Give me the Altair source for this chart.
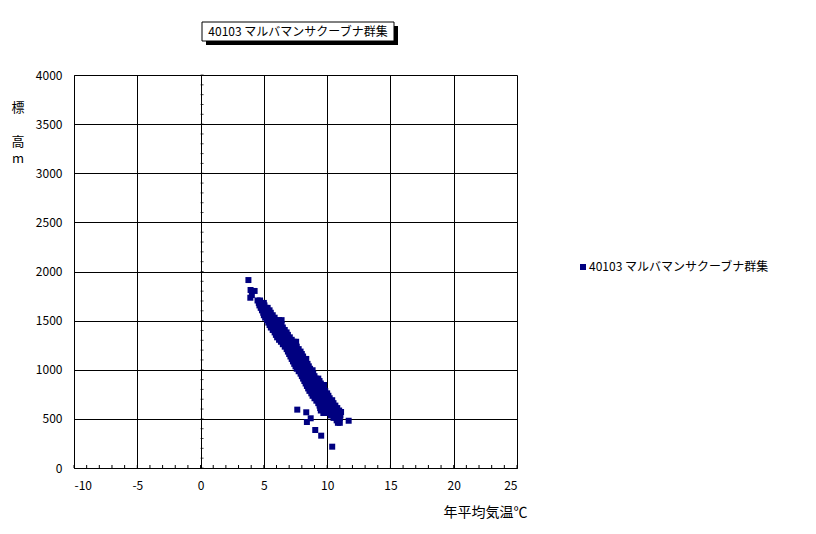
import altair as alt
import pandas as pd

series_name = "40103 マルバマンサクーブナ群集"
x_title = "年平均気温℃"
y_title_chars = ["標", "高", "m"]

# (elevation m, [annual mean temperatures °C])
rows = [
    (1913, [3.78]),
    (1812, [3.95]),
    (1802, [4.27]),
    (1760, [4.05]),
    (1733, [3.93]),
    (1705, [4.5, 4.7]),
    (1680, [4.6, 4.8, 5.0]),
    (1655, [4.65, 4.85, 5.05]),
    (1630, [4.75, 4.95, 5.15, 5.3]),
    (1605, [4.85, 5.05, 5.25, 5.45]),
    (1580, [4.95, 5.15, 5.35, 5.55]),
    (1555, [5.0, 5.25, 5.45, 5.7]),
    (1530, [5.1, 5.35, 5.6, 5.85]),
    (1505, [5.25, 5.45, 5.7, 5.95, 6.2, 6.4]),
    (1480, [5.35, 5.6, 5.85, 6.1]),
    (1455, [5.45, 5.7, 5.95, 6.2, 6.4]),
    (1430, [5.55, 5.8, 6.05, 6.3, 6.5]),
    (1405, [5.7, 5.95, 6.2, 6.45, 6.65]),
    (1380, [5.85, 6.1, 6.35, 6.6, 6.8]),
    (1355, [5.95, 6.2, 6.45, 6.7, 6.9]),
    (1330, [6.05, 6.3, 6.55, 6.8, 7.05]),
    (1305, [6.2, 6.45, 6.7, 6.95, 7.2]),
    (1285, [6.35, 6.6, 6.85, 7.1, 7.35, 7.55]),
    (1260, [6.5, 6.75, 7.0, 7.25, 7.45]),
    (1235, [6.65, 6.9, 7.15, 7.4, 7.6]),
    (1210, [6.8, 7.05, 7.3, 7.55, 7.75]),
    (1185, [6.9, 7.15, 7.4, 7.65, 7.9]),
    (1160, [7.0, 7.25, 7.5, 7.75, 8.0]),
    (1135, [7.1, 7.35, 7.6, 7.85, 8.1]),
    (1110, [7.2, 7.45, 7.7, 7.95, 8.2, 8.35]),
    (1085, [7.3, 7.55, 7.8, 8.05, 8.3]),
    (1060, [7.4, 7.65, 7.9, 8.15, 8.45]),
    (1035, [7.5, 7.75, 8.0, 8.25, 8.55]),
    (1010, [7.6, 7.85, 8.1, 8.35, 8.65]),
    (995, [8.85]),
    (985, [7.75, 8.0, 8.25, 8.5, 8.75]),
    (960, [7.9, 8.15, 8.4, 8.65, 8.9]),
    (935, [8.0, 8.25, 8.5, 8.75, 9.0]),
    (910, [8.1, 8.35, 8.6, 8.85, 9.1, 9.3]),
    (885, [8.2, 8.45, 8.7, 8.95, 9.2, 9.4]),
    (860, [8.3, 8.55, 8.8, 9.05, 9.3, 9.5]),
    (845, [9.75]),
    (835, [8.4, 8.65, 8.9, 9.15, 9.4, 9.6]),
    (810, [8.5, 8.75, 9.0, 9.25, 9.5, 9.7]),
    (785, [8.6, 8.85, 9.1, 9.35, 9.6, 9.85]),
    (760, [8.75, 9.0, 9.25, 9.5, 9.75, 10.0]),
    (735, [8.85, 9.1, 9.35, 9.6, 9.85, 10.1]),
    (710, [9.0, 9.25, 9.5, 9.75, 10.0, 10.2]),
    (690, [10.4]),
    (685, [9.15, 9.4, 9.65, 9.9, 10.15]),
    (660, [9.3, 9.55, 9.8, 10.05, 10.3, 10.5]),
    (635, [9.4, 9.65, 9.9, 10.15, 10.4, 10.65]),
    (610, [9.45, 9.7, 9.95, 10.2, 10.45, 10.8]),
    (585, [9.5, 9.75, 10.0, 10.25, 10.5, 10.75, 10.95]),
    (570, [11.1]),
    (560, [9.7, 9.95, 10.25, 10.5, 10.75, 11.0]),
    (535, [10.3, 10.55, 10.8, 11.05]),
    (510, [10.5, 10.75, 11.0]),
    (485, [10.75, 10.95]),
    (460, [10.85, 11.0]),
]
# isolated plots below the band
outlier_temps = [7.64, 8.35, 8.7, 8.4, 9.06, 9.53, 10.4, 11.7]
outlier_elevs = [594, 567, 506, 468, 387, 329, 217, 481]

x_major = [-10, -5, 0, 5, 10, 15, 20, 25]
y_major = [0, 500, 1000, 1500, 2000, 2500, 3000, 3500, 4000]
x_minor = list(range(-10, 26))
y_minor = list(range(0, 4001, 100))

temps, elevs = [], []
for e, ts in rows:
    for t in ts:
        temps.append(t)
        elevs.append(e)
temps += outlier_temps
elevs += outlier_elevs

df = pd.DataFrame({"temp": temps, "elev": elevs, "series": series_name})

W, H = 443, 393
FONT = "Noto Sans CJK JP"
NAVY = "#000080"

xscale = alt.Scale(domain=[-10, 25], nice=False, zero=False)
yscale = alt.Scale(domain=[0, 4000], nice=False)

points = alt.Chart(df).mark_square(size=36, opacity=1, filled=True).encode(
    x=alt.X("temp:Q", scale=xscale, axis=alt.Axis(
        values=x_major, grid=True, gridColor="black", gridWidth=1, gridOpacity=1,
        ticks=False, domainColor="black", labelPadding=12, labelFontSize=12,
        labelFont=FONT, labelColor="black", labelExpr="'' + datum.value",
        title=x_title, titleFont=FONT, titleFontSize=14, titleFontWeight="normal",
        titleColor="black", titleAlign="right", titleAnchor="end",
        titleX=453, titleY=44, titleBaseline="middle")),
    y=alt.Y("elev:Q", scale=yscale, axis=alt.Axis(
        values=y_major, grid=True, gridColor="black", gridWidth=1, gridOpacity=1,
        ticks=False, domainColor="black", labelPadding=12, labelFontSize=12,
        labelFont=FONT, labelColor="black", labelExpr="'' + datum.value",
        title=None)),
    color=alt.Color("series:N", scale=alt.Scale(range=[NAVY]), legend=alt.Legend(
        title=None, orient="none", legendX=503, legendY=186, padding=0,
        symbolType="square", symbolSize=36, symbolFillColor=NAVY,
        symbolStrokeWidth=0, labelFont=FONT, labelFontSize=12,
        labelColor="black", labelOffset=0, labelLimit=0)),
)

minor_x = alt.Chart(pd.DataFrame({"v": x_minor})).mark_rule(color="black", strokeWidth=1).encode(
    x=alt.X("v:Q", scale=xscale), y=alt.value(H), y2=alt.value(H - 3))

minor_y = alt.Chart(pd.DataFrame({"v": y_minor})).mark_tick(
    orient="horizontal", size=3, thickness=1, color="black", xOffset=1.5).encode(
    x=alt.datum(0, scale=xscale), y=alt.Y("v:Q", scale=yscale))

# vertical y-axis title, one character per line (positions in pixels)
ytitle_df = pd.DataFrame({"c": y_title_chars})
def ychar(i, ypix, size):
    return alt.Chart(ytitle_df).transform_filter(
        alt.datum.c == y_title_chars[i]).mark_text(
        font=FONT, fontSize=size, color="black", align="center", baseline="middle").encode(
        x=alt.value(-56), y=alt.value(ypix), text="c:N")
ytitle = [ychar(0, 33, 13), ychar(1, 67, 13), ychar(2, 84, 13)]

title_df = pd.DataFrame({"label": [series_name]})
shadow = alt.Chart(title_df).mark_rect(color="black").encode(
    x=alt.value(132), x2=alt.value(324), y=alt.value(-49), y2=alt.value(-30))
box = alt.Chart(title_df).mark_rect(fill="white", stroke="black", strokeWidth=1).encode(
    x=alt.value(128), x2=alt.value(320), y=alt.value(-53), y2=alt.value(-34))
title_text = alt.Chart(title_df).mark_text(
    font=FONT, fontSize=12, color="black", align="center", baseline="middle").encode(
    x=alt.value(224), y=alt.value(-43.5), text="label:N")

chart = alt.layer(minor_x, minor_y, points, shadow, box, title_text, *ytitle).properties(
    width=W, height=H,
    padding={"left": 66, "top": 67, "right": 285, "bottom": 60},
    autosize=alt.AutoSizeParams(type="none"),
).configure_view(stroke="black", strokeWidth=1).configure(background="white")

chart.save("out.html", embed_options={"renderer": "svg", "actions": False})
